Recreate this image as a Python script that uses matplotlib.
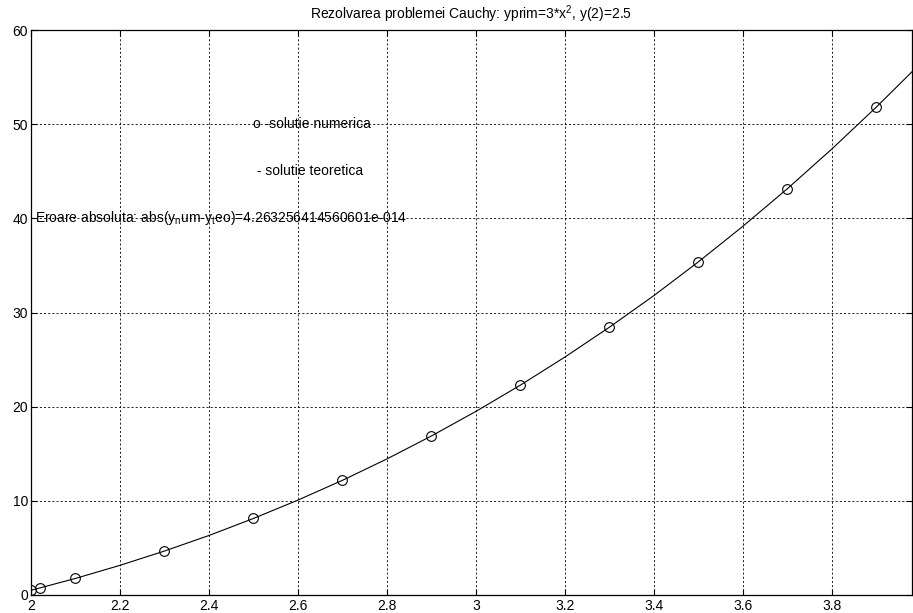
import matplotlib
matplotlib.use("Agg")
import matplotlib.pyplot as plt

# numerical solution (markers)
x_num = [2.0, 2.02, 2.1, 2.3, 2.5, 2.7, 2.9, 3.1, 3.3, 3.5, 3.7, 3.9]
y_num = [0.5, 0.74, 1.76, 4.67, 8.13, 12.18, 16.89, 22.29, 28.44, 35.38, 43.15, 51.82]

# theoretical solution (line)
x_teo = [2.0, 2.1, 2.2, 2.3, 2.4, 2.5, 2.6, 2.7, 2.8, 2.9, 3.0,
         3.1, 3.2, 3.3, 3.4, 3.5, 3.6, 3.7, 3.8, 3.9, 4.0]
y_teo = [0.5, 1.76, 3.15, 4.67, 6.32, 8.13, 10.08, 12.18, 14.45, 16.89, 19.5,
         22.29, 25.27, 28.44, 31.8, 35.38, 39.16, 43.15, 47.37, 51.82, 56.5]

x_ticks = [2, 2.2, 2.4, 2.6, 2.8, 3, 3.2, 3.4, 3.6, 3.8]
x_labels = ['2', '2.2', '2.4', '2.6', '2.8', '3', '3.2', '3.4', '3.6', '3.8']
y_ticks = [0, 10, 20, 30, 40, 50, 60]

plt.rcParams['font.family'] = ['Liberation Sans', 'DejaVu Sans']
plt.rcParams['font.size'] = 10

fig = plt.figure(figsize=(9.13, 6.13), dpi=100)
ax = fig.add_axes([31 / 913, 1 - 595 / 613, 881 / 913, 565 / 613])

ax.plot(x_num, y_num, 'o', mfc='none', mec='black', ms=7, mew=0.8)
ax.plot(x_teo, y_teo, '-', color='black', lw=0.8)

ax.set_xlim(2, 3.98)
ax.set_ylim(0, 60)
ax.set_xticks(x_ticks)
ax.set_xticklabels(x_labels)
ax.set_yticks(y_ticks)
ax.tick_params(direction='in', top=True, right=True, length=4, width=0.8, pad=2)
ax.tick_params(axis='x', pad=3)
ax.grid(True, color='black', linestyle=(0, (2.5, 2.5)), linewidth=0.6)
for s in ax.spines.values():
    s.set_linewidth(0.9)

ax.text(2.5, 50, 'o -solutie numerica', va='center', ha='left')
ax.text(2.5, 45, ' - solutie teoretica', va='center', ha='left')
ax.text(2.01, 40, 'Eroare absoluta: abs(y$_\\mathregular{n}$um-y$_\\mathregular{t}$eo)=4.263256414560601e-014',
        va='center', ha='left')

ax.set_title('Rezolvarea problemei Cauchy: yprim=3*x$^\\mathregular{2}$, y(2)=2.5', fontsize=10, pad=8)

fig.savefig('out.png', dpi=100)
